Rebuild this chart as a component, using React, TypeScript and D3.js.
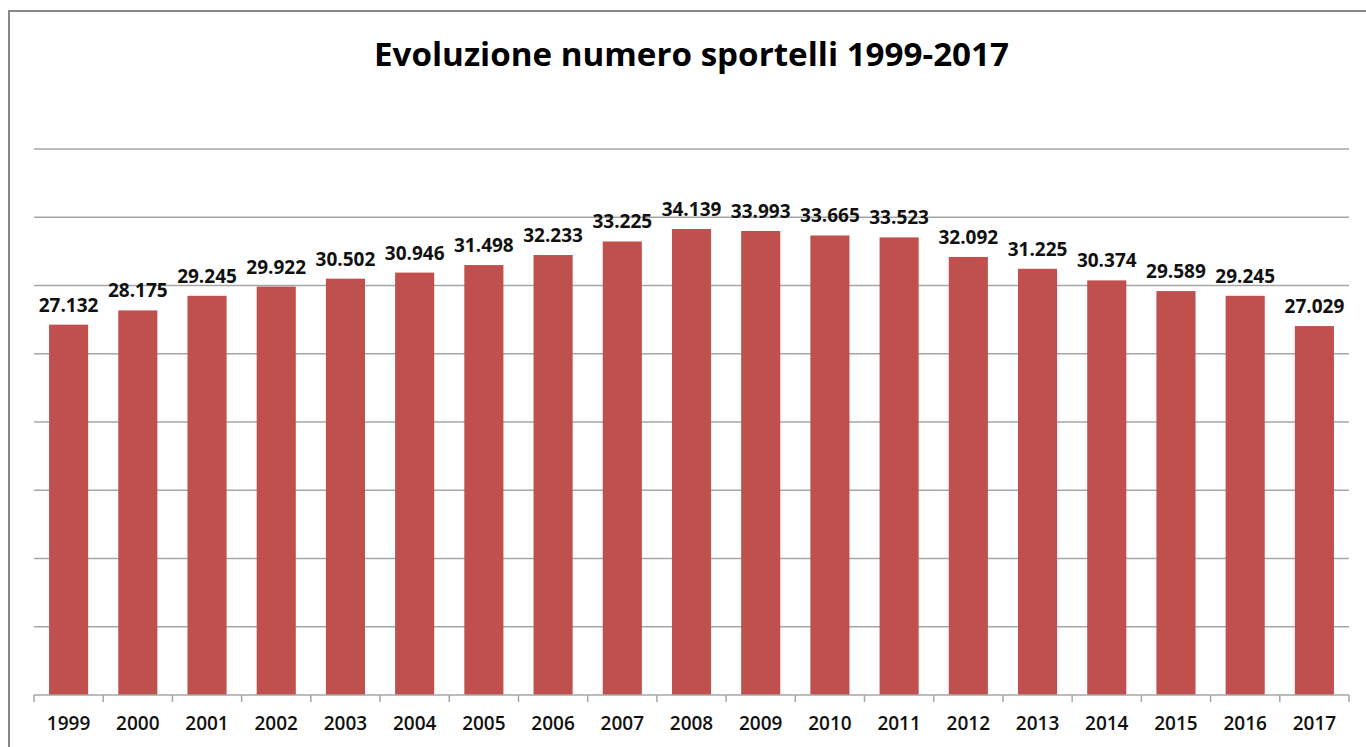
import React from "react";
import * as d3 from "d3";

const years = ["1999","2000","2001","2002","2003","2004","2005","2006","2007","2008","2009","2010","2011","2012","2013","2014","2015","2016","2017"];
const sportelli = [27132,28175,29245,29922,30502,30946,31498,32233,33225,34139,33993,33665,33523,32092,31225,30374,29589,29245,27029];
const yTicks = [0,5000,10000,15000,20000,25000,30000,35000,40000];
const title = "Evoluzione numero sportelli 1999-2017";

const W = 1366, H = 747;
const left = 34, right = 1349, top = 149, bottom = 695;

export default function App() {
  const x = d3.scaleBand<string>().domain(years).range([left, right]).paddingInner(0.435).paddingOuter(0.2175);
  const y = d3.scaleLinear().domain([0, 40000]).range([bottom, top]);
  const fmt = (v: number) => d3.format(",")(v).replace(/,/g, ".");
  const font = "'Open Sans', 'Noto Sans', sans-serif";
  const step = x.step();
  return (
    <svg width={W} height={H} style={{ position: "absolute", left: 0, top: 0, background: "#fff" }}>
      <rect x={0} y={0} width={W} height={H} fill="#fff" />
      <path d={`M9,${H + 5}V11H${W + 5}`} fill="none" stroke="#878787" strokeWidth={2} />
      <text x={(left + right) / 2} y={66} textAnchor="middle" fontFamily={font} fontWeight={700} fontSize={32}
        textLength={635} lengthAdjust="spacingAndGlyphs" fill="#000">{title}</text>
      {yTicks.slice(1).map(t => (
        <line key={t} x1={left} x2={right} y1={y(t)} y2={y(t)} stroke="#a6a6a6" strokeWidth={1.5} />
      ))}
      {years.map((yr, i) => (
        <rect key={yr} x={x(yr)} y={y(sportelli[i])} width={x.bandwidth()} height={bottom - y(sportelli[i])} fill="#c0504d" />
      ))}
      <line x1={left} x2={right} y1={bottom} y2={bottom} stroke="#a6a6a6" strokeWidth={1.5} />
      {d3.range(years.length + 1).map(i => (
        <line key={i} x1={left + i * step} x2={left + i * step} y1={bottom} y2={bottom + 7} stroke="#a6a6a6" strokeWidth={1.5} />
      ))}
      {years.map((yr, i) => (
        <text key={yr} x={(x(yr) as number) + x.bandwidth() / 2} y={y(sportelli[i]) - 13} textAnchor="middle"
          fontFamily={font} fontWeight={700} fontSize={19} fill="#111">{fmt(sportelli[i])}</text>
      ))}
      {years.map(yr => (
        <text key={yr} x={(x(yr) as number) + x.bandwidth() / 2} y={730} textAnchor="middle"
          fontFamily={font} fontWeight={600} fontSize={19} fill="#111">{yr}</text>
      ))}
    </svg>
  );
}
